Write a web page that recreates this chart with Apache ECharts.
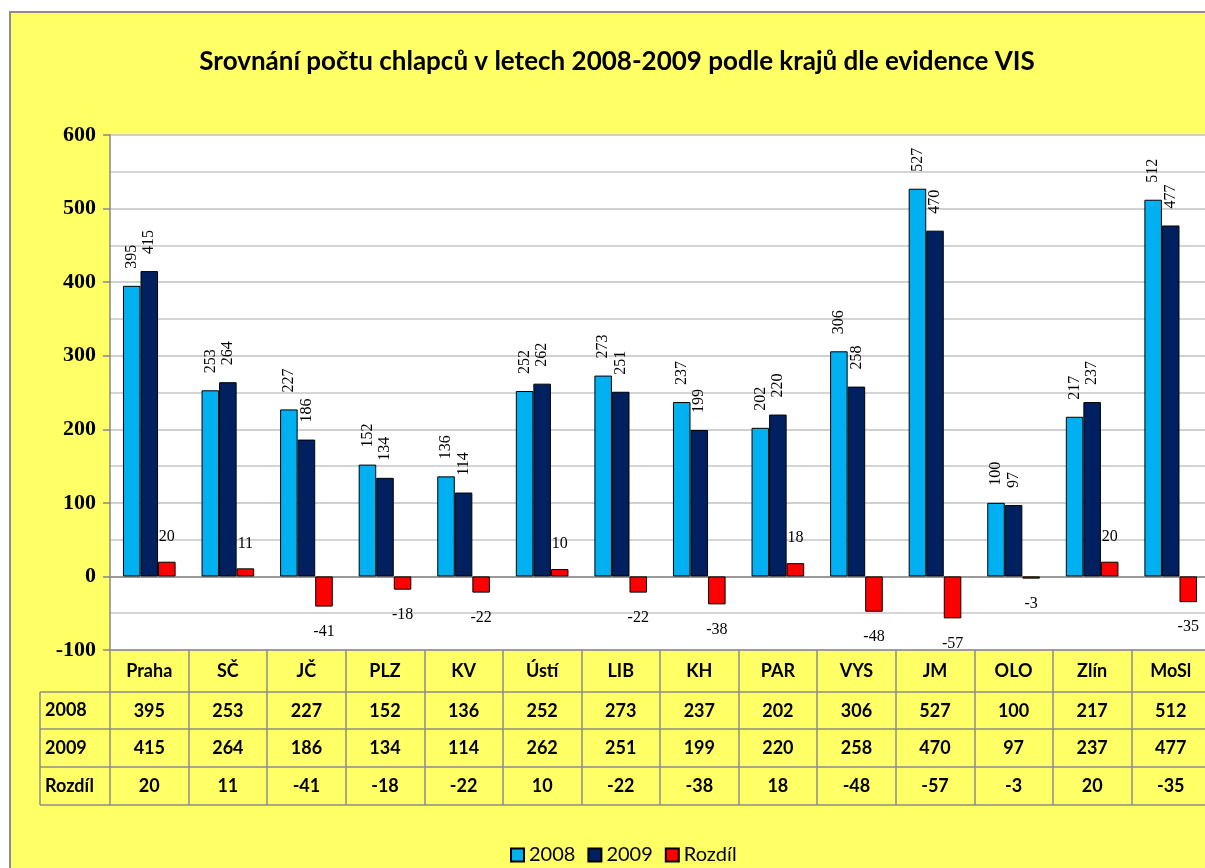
<!DOCTYPE html>
<html>
<head>
<meta charset="utf-8">
<script src="https://cdn.jsdelivr.net/npm/echarts@6/dist/echarts.min.js"></script>
<style>
  html, body { margin: 0; padding: 0; background: #fff; overflow: hidden; }
  #chart { position: absolute; left: 0; top: 0; width: 1320px; height: 868px; }
</style>
</head>
<body>
<div id="chart"></div>
<script>
// data
const kraje = ['Praha', 'SČ', 'JČ', 'PLZ', 'KV', 'Ústí', 'LIB', 'KH', 'PAR', 'VYS', 'JM', 'OLO', 'Zlín', 'MoSl'];
const rok2008 = [395, 253, 227, 152, 136, 252, 273, 237, 202, 306, 527, 100, 217, 512];
const rok2009 = [415, 264, 186, 134, 114, 262, 251, 199, 220, 258, 470, 97, 237, 477];
const rozdil = [20, 11, -41, -18, -22, 10, -22, -38, 18, -48, -57, -3, 20, -35];
const radky = ['2008', '2009', 'Rozdíl'];

const gridLeft = 110, gridTop = 135, gridHeight = 515, gridWidth = 1100;
const tableTop = gridTop + gridHeight;     // 650
const rowOffsets = [0, 42, 79, 117, 155];  // horni hrany radku tabulky
const lineColor = '#8c8c8c';
const tableFont = { fontFamily: 'Lato', fontWeight: 'bold', fontSize: 18, color: '#000' };

const chart = echarts.init(document.getElementById('chart'));

// jeden radek tabulky = jedna osa x pod grafem
function tableAxis(i, formatter) {
  const h = rowOffsets[i + 1] - rowOffsets[i];
  return {
    type: 'category',
    data: kraje,
    position: 'bottom',
    offset: rowOffsets[i],
    axisLine: { show: true, onZero: false, lineStyle: { color: lineColor, width: 1.5 } },
    axisTick: { show: true, interval: 0, length: h, lineStyle: { color: lineColor, width: 1.5 } },
    axisLabel: Object.assign({ interval: 0, margin: i === 0 ? 12 : 10, formatter: formatter }, tableFont),
    splitLine: { show: false }
  };
}

// zluty podklad s ramem
const graphics = [{
  type: 'rect', silent: true, z: -100,
  shape: { x: 10, y: 12, width: 1400, height: 1000 },
  style: { fill: '#ffff66', stroke: lineColor, lineWidth: 2 }
}];
for (let i = 1; i < rowOffsets.length; i++) {
  graphics.push({
    type: 'line', silent: true,
    shape: { x1: 40, y1: tableTop + rowOffsets[i], x2: gridLeft, y2: tableTop + rowOffsets[i] },
    style: { stroke: lineColor, lineWidth: 1.5 }
  });
}
graphics.push({
  type: 'line', silent: true,
  shape: { x1: 40, y1: tableTop + rowOffsets[1], x2: 40, y2: tableTop + rowOffsets[4] },
  style: { stroke: lineColor, lineWidth: 1.5 }
});
radky.forEach((name, i) => {
  graphics.push({
    type: 'text', silent: true,
    x: 45, y: tableTop + (rowOffsets[i + 1] + rowOffsets[i + 2]) / 2,
    style: { text: name, align: 'left', verticalAlign: 'middle', fill: '#000',
      fontFamily: 'Lato', fontWeight: 'bold', fontSize: 18 }
  });
});

const serifLabel = { fontFamily: 'Liberation Serif', fontSize: 16, color: '#000' };
const barBorder = { borderColor: '#000', borderWidth: 1 };

chart.setOption({
  backgroundColor: '#fff',
  animation: false,
  title: {
    text: 'Srovnání počtu chlapců v letech 2008-2009 podle krajů dle evidence VIS',
    left: 612, top: 44, textAlign: 'center',
    textStyle: { fontFamily: 'Lato', fontWeight: 'bold', fontSize: 26, color: '#000' }
  },
  legend: {
    data: radky,
    left: 505, top: 840,
    itemWidth: 13, itemHeight: 13, itemGap: 12,
    icon: 'rect',
    textStyle: { fontFamily: 'Lato', fontSize: 20, color: '#000' }
  },
  grid: {
    left: gridLeft, top: gridTop, width: gridWidth, height: gridHeight,
    show: true, backgroundColor: '#fff', borderWidth: 0
  },
  xAxis: [
    {
      type: 'category',
      data: kraje,
      axisLine: { show: true, onZero: true, lineStyle: { color: '#868686', width: 1.5 } },
      axisTick: { show: false },
      axisLabel: { show: false },
      splitLine: { show: false }
    },
    tableAxis(0, (v) => v),
    tableAxis(1, (v, i) => String(rok2008[i])),
    tableAxis(2, (v, i) => String(rok2009[i])),
    tableAxis(3, (v, i) => String(rozdil[i])),
    {
      type: 'category', data: kraje, position: 'bottom', offset: rowOffsets[4],
      axisLine: { show: true, onZero: false, lineStyle: { color: lineColor, width: 1.5 } },
      axisTick: { show: false }, axisLabel: { show: false }, splitLine: { show: false }
    }
  ],
  yAxis: {
    type: 'value',
    min: -100, max: 600, interval: 100,
    axisLine: { show: true, lineStyle: { color: '#868686', width: 1.5 } },
    axisTick: { show: true, length: 7, lineStyle: { color: '#868686', width: 1.5 } },
    axisLabel: { margin: 14, fontFamily: 'Liberation Serif', fontWeight: 'bold', fontSize: 22, color: '#000' },
    splitLine: { show: true, lineStyle: { color: '#c0c0c0', width: 1.5 } },
    minorTick: { show: false, splitNumber: 2 },
    minorSplitLine: { show: true, lineStyle: { color: '#c8c8c8', width: 1.5 } }
  },
  graphic: graphics,
  series: [
    {
      name: '2008', type: 'bar', data: rok2008,
      barGap: '0%', barCategoryGap: '33%',
      itemStyle: Object.assign({ color: '#00b0f0' }, barBorder),
      label: Object.assign({ show: true, position: 'top', rotate: 90, align: 'left', verticalAlign: 'middle', distance: 17 }, serifLabel)
    },
    {
      name: '2009', type: 'bar', data: rok2009,
      barGap: '0%', barCategoryGap: '33%',
      itemStyle: Object.assign({ color: '#002060' }, barBorder),
      label: Object.assign({ show: true, position: 'top', rotate: 90, align: 'left', verticalAlign: 'middle', distance: 17 }, serifLabel)
    },
    {
      name: 'Rozdíl', type: 'bar',
      data: rozdil.map(v => ({ value: v, label: { position: v >= 0 ? 'top' : 'bottom' } })),
      barGap: '0%', barCategoryGap: '33%',
      itemStyle: Object.assign({ color: '#ff0000' }, barBorder),
      label: Object.assign({ show: true, distance: 17 }, serifLabel)
    }
  ]
});
</script>
</body>
</html>
